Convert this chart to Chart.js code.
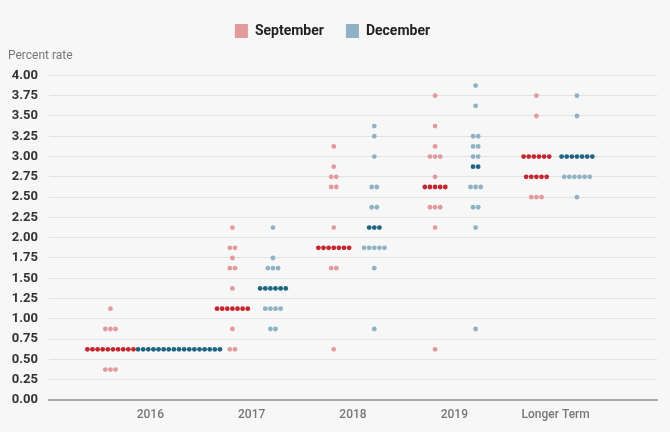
<!DOCTYPE html>
<html>
<head>
<meta charset="utf-8">
<script src="https://cdn.jsdelivr.net/npm/chart.js@4.4.1/dist/chart.umd.min.js"></script>
<style>
  html, body { margin: 0; padding: 0; background: #f7f7f7; }
  .wrap { width: 670px; height: 432px; position: relative; }
</style>
</head>
<body>
<div class="wrap"><canvas id="dotChart"></canvas></div>
<script>
const categories = ['2016', '2017', '2018', '2019', 'Longer Term'];
const rateTicks = [0, 0.25, 0.5, 0.75, 1, 1.25, 1.5, 1.75, 2, 2.25, 2.5, 2.75, 3, 3.25, 3.5, 3.75, 4];

// [rate, number of participants]
const sept2016 = [[0.375, 3], [0.625, 10], [0.875, 3], [1.125, 1]];
const sept2017 = [[0.625, 2], [0.875, 1], [1.125, 7], [1.375, 1], [1.625, 2], [1.75, 1], [1.875, 2], [2.125, 1]];
const sept2018 = [[0.625, 1], [1.625, 2], [1.875, 7], [2.125, 1], [2.625, 2], [2.75, 2], [2.875, 1], [3.125, 1]];
const sept2019 = [[0.625, 1], [2.125, 1], [2.375, 3], [2.625, 5], [2.75, 1], [3, 3], [3.125, 1], [3.375, 1], [3.75, 1]];
const septLonger = [[2.5, 3], [2.75, 5], [3, 6], [3.5, 1], [3.75, 1]];

const dec2016 = [[0.625, 17]];
const dec2017 = [[0.875, 2], [1.125, 4], [1.375, 6], [1.625, 3], [1.75, 1], [2.125, 1]];
const dec2018 = [[0.875, 1], [1.625, 1], [1.875, 5], [2.125, 3], [2.375, 2], [2.625, 2], [3, 1], [3.25, 1], [3.375, 1]];
const dec2019 = [[0.875, 1], [2.125, 1], [2.375, 2], [2.625, 3], [2.875, 2], [3, 2], [3.125, 2], [3.25, 2], [3.625, 1], [3.875, 1]];
const decLonger = [[2.5, 1], [2.75, 6], [3, 7], [3.5, 1], [3.75, 1]];

const septGroups = [sept2016, sept2017, sept2018, sept2019, septLonger];
const decGroups = [dec2016, dec2017, dec2018, dec2019, decLonger];

// where each meeting's dots sit around the year tick (x units)
const septShift = [-0.394, -0.19, -0.19, -0.19, -0.19];
const decShift = [0.283, 0.21, 0.21, 0.21, 0.21];
const dotStep = 0.0505;

const medianRates = rows => {
  const all = [];
  rows.forEach(([rate, n]) => { for (let k = 0; k < n; k++) all.push(rate); });
  all.sort((a, b) => a - b);
  const mid = all.length / 2;
  return all.length % 2 ? [all[Math.floor(mid)]] : [all[mid - 1], all[mid]];
};

const buildDots = (groups, shifts) => {
  const normal = [], median = [];
  groups.forEach((rows, i) => {
    const med = medianRates(rows);
    rows.forEach(([rate, n]) => {
      for (let k = 0; k < n; k++) {
        const pt = { x: i + shifts[i] + (k - (n - 1) / 2) * dotStep, y: rate };
        (med.includes(rate) ? median : normal).push(pt);
      }
    });
  });
  return { normal, median };
};

const sept = buildDots(septGroups, septShift);
const dec = buildDots(decGroups, decShift);

const dotStyle = color => ({
  backgroundColor: color,
  borderColor: color,
  borderWidth: 0,
  pointRadius: 2.4,
  pointHoverRadius: 3
});

const ctx = document.getElementById('dotChart').getContext('2d');
const dotChart = new Chart(ctx, {
  type: 'scatter',
  data: {
    datasets: [
      { label: 'September', data: sept.normal, ...dotStyle('#e29a9d') },
      { label: 'September median', data: sept.median, ...dotStyle('#c4262e') },
      { label: 'December', data: dec.normal, ...dotStyle('#8fb2c4') },
      { label: 'December median', data: dec.median, ...dotStyle('#1f6483') }
    ]
  },
  options: {
    responsive: true,
    maintainAspectRatio: false,
    animation: false,
    layout: { padding: { left: 8, right: 13, top: 2, bottom: 0 } },
    plugins: {
      legend: {
        labels: {
          boxWidth: 13,
          boxHeight: 14,
          padding: 22,
          color: '#222',
          font: { family: 'Roboto', size: 14, weight: 'bold' },
          filter: item => !item.text.includes('median')
        }
      },
      title: {
        display: true,
        text: 'Percent rate',
        align: 'start',
        weight: 500,
        color: '#777',
        font: { family: 'Roboto', size: 12, weight: 'normal' },
        padding: { top: 1, bottom: 12 }
      },
      tooltip: { enabled: false }
    },
    scales: {
      x: {
        type: 'linear',
        min: -1,
        max: 5,
        afterBuildTicks: s => { s.ticks = categories.map((c, i) => ({ value: i })); },
        afterFit: s => { s.height = 32; },
        ticks: {
          callback: v => categories[v],
          color: '#777',
          padding: 8,
          font: { family: 'Roboto', size: 12, weight: '500' }
        },
        grid: { display: false, drawTicks: false },
        border: { color: '#aaaaaa', width: 2 }
      },
      y: {
        min: 0,
        max: 4,
        afterBuildTicks: s => { s.ticks = rateTicks.map(v => ({ value: v })); },
        afterFit: s => { s.width = 41; },
        ticks: {
          callback: v => v.toFixed(2),
          color: '#333',
          padding: 11,
          font: { family: 'Roboto', size: 13, weight: 'bold' }
        },
        grid: { color: '#e2e2e2', drawTicks: false },
        border: { display: false }
      }
    }
  }
});
</script>
</body>
</html>
